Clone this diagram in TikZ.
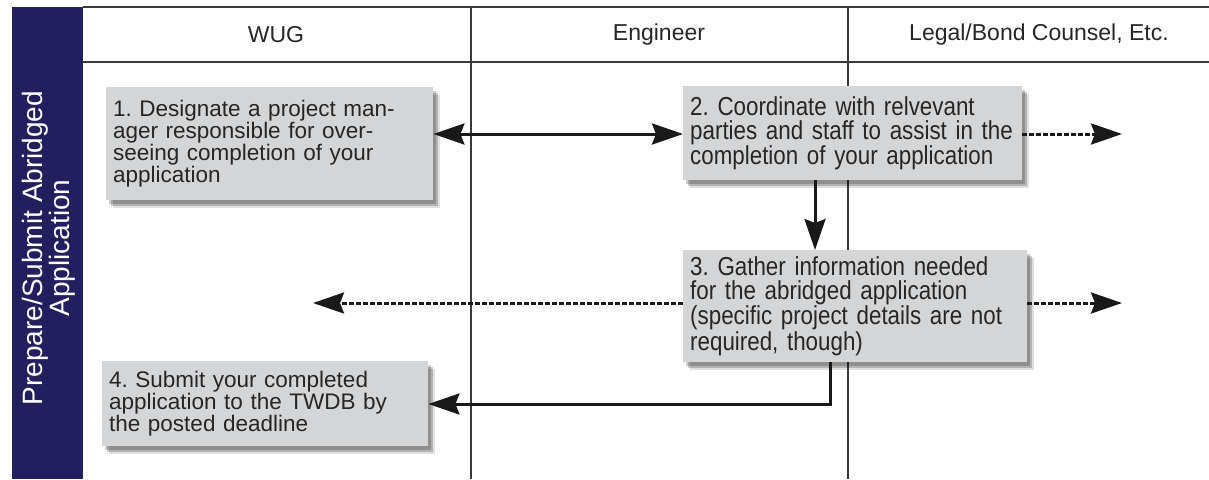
\documentclass[tikz,border=0pt]{standalone}
\usepackage{fontspec}
\setmainfont{Liberation Sans}
\newfontfamily\condfont[FakeStretch=0.86]{Liberation Sans}
\usetikzlibrary{arrows.meta,shadows}
\definecolor{navy}{HTML}{231F5E}
\definecolor{boxgray}{HTML}{D4D5D7}
\definecolor{gridline}{HTML}{3A3A3A}
\definecolor{txt}{HTML}{262626}
\frenchspacing
\begin{document}
\begin{tikzpicture}[x=1pt,y=-1pt,
  grid/.style={draw=gridline,line width=1.2pt},
  header/.style={text=txt,font=\fontsize{23}{25}\selectfont},
  stepbox/.style={fill=boxgray,anchor=north west,inner xsep=7pt,inner ysep=0pt,
    align=left,text=txt,
    drop shadow={shadow xshift=7pt,shadow yshift=-8pt,fill=black,opacity=0.12},
    drop shadow={shadow xshift=5pt,shadow yshift=-6pt,fill=black,opacity=0.2},
    drop shadow={shadow xshift=3pt,shadow yshift=-4pt,fill=black,opacity=0.2}},
  widetext/.style={font=\fontsize{22.5}{22}\selectfont},
  condtext/.style={font=\condfont\fontsize{26}{24}\selectfont},
  tip/.style={},
  arr/.style={line width=3pt,draw=black!90,-{Stealth[length=31pt,width=21pt,inset=4pt]}},
  dotarr/.style={arr,dash pattern=on 5pt off 2pt}
]
\useasboundingbox (0,0) rectangle (1209,479);
% lane band
\fill[navy] (12,7) rectangle (83,479);
\node[rotate=90,text=white,align=center,font=\fontsize{28}{25}\selectfont] (lane) at (49,248)
  {Prepare/Submit Abridged\\Application};
% grid
\draw[grid] (83,7) -- (1209,7);
\draw[grid] (83,62) -- (1209,62);
\draw[grid] (471,7) -- (471,479);
\draw[grid] (848,7) -- (848,479);
% headers
\node[header] (h1) at (276,35) {WUG};
\node[header] (h2) at (659,35) {Engineer};
\node[header] (h3) at (1039,35) {Legal/Bond Counsel, Etc.};
% boxes
\node[stepbox,widetext,text width=313pt,minimum height=113pt] (b1) at (106,87)
  {1. Designate a project man-\\ager responsible for over-\\seeing completion of your\\application};
\node[stepbox,condtext,text width=325pt,minimum height=94pt] (b2) at (683,86)
  {2. Coordinate with relvevant\\parties and staff to assist in the\\completion of your application};
\node[stepbox,condtext,text width=330pt,minimum height=112pt] (b3) at (683,250)
  {3. Gather information needed\\for the abridged application\\(specific project details are not\\required, though)};
\node[stepbox,widetext,text width=312pt,minimum height=85pt] (b4) at (102,361)
  {4. Submit your completed\\application to the TWDB by\\the posted deadline};
% reference coordinates
\coordinate (r1) at (0,134);
\coordinate (o1) at (1122,134);
\coordinate (v) at (815,0);
\coordinate (o3) at (313,303);
\coordinate (o4) at (1122,303);
\coordinate (k) at (830,404);
% connectors
\draw[arr,{Stealth[length=31pt,width=21pt,inset=4pt]}-{Stealth[length=31pt,width=21pt,inset=4pt]}]
  (b1.east |- r1) -- (b2.west |- r1);
\draw[dotarr] (b2.east |- r1) -- (o1);
\draw[arr] (b2.south -| v) -- (b3.north -| v);
\draw[dotarr] (b3.west |- o3) -- (o3);
\draw[dotarr] (b3.east |- o4) -- (o4);
\draw[arr] (b3.south -| k) |- (b4.east |- k);
\end{tikzpicture}
\end{document}
